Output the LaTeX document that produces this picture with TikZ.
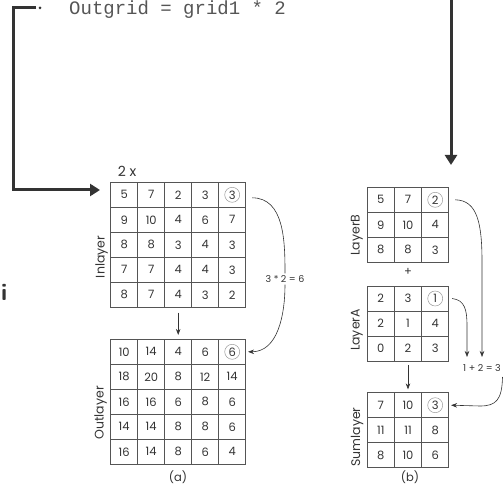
\documentclass[tikz,border=0pt]{standalone}
\usepackage{fontspec}
\setmainfont{Poppins}
\setmonofont{Liberation Mono}
\usetikzlibrary{arrows.meta}
\definecolor{ink}{HTML}{333333}
\definecolor{gridline}{HTML}{555555}
\definecolor{ringgray}{HTML}{999999}
\definecolor{codegray}{HTML}{555555}

\begin{document}
\begin{tikzpicture}[x=1pt,y=-1pt,
  cell/.style={draw=gridline, line width=0.7pt, minimum width=27pt, minimum height=25pt,
    inner sep=0pt, text=ink, font=\fontsize{11.5}{13}\selectfont},
  ring/.style={draw=ringgray, line width=0.5pt},
  layerlbl/.style={rotate=90, inner sep=0pt, text=ink, font=\fontsize{12.5}{14}\selectfont},
  smalltxt/.style={inner sep=2pt, text=ink, font=\fontsize{9.5}{11}\selectfont},
  capt/.style={inner sep=0pt, text=ink, font=\fontsize{11.5}{13}\selectfont},
  thinarrow/.style={draw=ink, line width=0.6pt, -{Stealth[length=6pt,width=4.5pt]}},
  thinline/.style={draw=ink, line width=0.6pt},
  thickarrow/.style={draw=ink, line width=3pt, -{Triangle[length=10pt,width=12pt]}},
]
\useasboundingbox (0,0) rectangle (503,486);

% ---------- code line and the heavy connectors ----------
\node[anchor=base west, inner sep=0pt, text=codegray, font=\ttfamily\fontsize{19}{22}\selectfont]
  (code) at (69,15) {Outgrid = grid1 * 2};
\coordinate (srcdot) at (40,8);
\fill[ink] (srcdot) circle (1.5);
\coordinate (inentry) at (100,190);
\draw[thickarrow] ([xshift=-4pt]srcdot) -| ([xshift=-87pt]inentry) -- (inentry);

\coordinate (rtop) at (451,-3);
\coordinate (rend) at (451,165);
\draw[thickarrow] (rtop) -- (rend);

\node[anchor=base east, inner sep=0pt, text=ink, font=\sffamily\bfseries\fontsize{24}{26}\selectfont]
  (frag) at (7.5,300) {i};

% ---------- (a): Inlayer * 2 = Outlayer ----------
\foreach [count=\r] \row in {{5,7,2,3,3},{9,10,4,6,7},{8,8,3,4,3},{7,7,4,4,3},{8,7,4,3,2}} {
  \foreach [count=\c] \v in \row {
    \node[cell] (in-\r-\c) at ({124.2+27*(\c-1)},{194.8+25*(\r-1)}) {\v};
  }
}
\foreach [count=\r] \row in {{10,14,4,6,6},{18,20,8,12,14},{16,16,6,8,6},{14,14,8,8,6},{16,14,8,6,4}} {
  \foreach [count=\c] \v in \row {
    \node[cell] (out-\r-\c) at ({124.2+27*(\c-1)},{351.8+25*(\r-1)}) {\v};
  }
}
\draw[ring] (in-1-5.center) circle (7.5);
\draw[ring] (out-1-5.center) circle (7.5);

\node[capt, font=\fontsize{14}{16}\selectfont] (twox) at (127,171) {2 x};
\node[layerlbl] (inlbl) at (101.7,257) {Inlayer};
\node[layerlbl] (outlbl) at (100.7,413) {Outlayer};
\node[capt] (capa) at (178,477) {(a)};

\draw[thinarrow] ([yshift=-5pt]in-5-3.south) -- ([yshift=4pt]out-1-3.north);

\node[smalltxt] (mullbl) at (285,279) {3 * 2 = 6};
\draw[thinline] ([shift={(6,3)}]in-1-5.east) to[out=0,in=90] (mullbl.north);
\draw[thinarrow] (mullbl.south) to[out=-90,in=0] ([xshift=2pt]out-1-5.east);

% ---------- (b): LayerA + LayerB = Sumlayer ----------
\foreach [count=\r] \row in {{5,7,2},{9,10,4},{8,8,3}} {
  \foreach [count=\c] \v in \row {
    \node[cell] (lb-\r-\c) at ({380.8+27.2*(\c-1)},{199.8+25*(\r-1)}) {\v};
  }
}
\foreach [count=\r] \row in {{2,3,1},{2,1,4},{0,2,3}} {
  \foreach [count=\c] \v in \row {
    \node[cell] (la-\r-\c) at ({380.8+27.2*(\c-1)},{298.5+25*(\r-1)}) {\v};
  }
}
\foreach [count=\r] \row in {{7,10,3},{11,11,8},{8,10,6}} {
  \foreach [count=\c] \v in \row {
    \node[cell] (sum-\r-\c) at ({380.8+27.2*(\c-1)},{405.2+25*(\r-1)}) {\v};
  }
}
\draw[ring] (lb-1-3.center) circle (7.5);
\draw[ring] (la-1-3.center) circle (7.5);
\draw[ring] (sum-1-3.center) circle (7.5);

\node[layerlbl] (lblb) at (357,235) {LayerB};
\node[layerlbl] (lbla) at (357,330) {LayerA};
\node[layerlbl] (lblsum) at (357,437) {Sumlayer};
\node[capt] (plus) at (408,272) {+};
\node[capt] (capb) at (410,477) {(b)};

\draw[thinarrow] ([yshift=-4pt]la-3-2.south) -- ([yshift=3pt]sum-1-2.north);

\node[smalltxt, anchor=west, inner sep=0pt] (addlbl) at (463,368) {1 + 2 = 3};
\coordinate (aend) at (467,357);
\coordinate (bend) at (482,357);
\coordinate (sumfrom) at (502.5,377);
\draw[thinarrow] ([xshift=3pt]la-1-3.east) .. controls (465,300) and (467,310) .. (467,326) -- (aend);
\draw[thinarrow] ([xshift=6pt]lb-1-3.east) .. controls (478,200) and (482,225) .. (482,262) -- (bend);
\draw[thinarrow] (sumfrom) .. controls (502,400) and (496,406) .. (480,406) -- ([xshift=2pt]sum-1-3.east);

\end{tikzpicture}
\end{document}
